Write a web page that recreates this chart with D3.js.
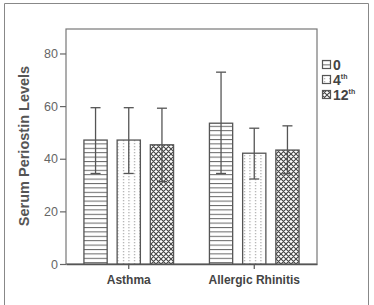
<!DOCTYPE html>
<html>
<head>
<meta charset="utf-8">
<script src="https://cdn.jsdelivr.net/npm/d3@7"></script>
<style>
  body { margin: 0; background: #fff; }
  text { font-family: "Liberation Sans", Arial, sans-serif; }
</style>
</head>
<body>
<svg id="mainsvg" width="374" height="305"></svg>
<script>
const categories = ["Asthma", "Allergic Rhinitis"]
const series = ["0", "4", "12"]
const seriesSup = ["", "th", "th"]
// means and error bar ends, per series
const mean0 = [47.1, 53.5]
const mean4 = [47.1, 42.1]
const mean12 = [45.3, 43.3]
const hi0 = [59.4, 72.9]
const hi4 = [59.4, 51.6]
const hi12 = [59.2, 52.5]
const lo0 = [34.4, 34.4]
const lo4 = [34.4, 32.3]
const lo12 = [31.3, 34.3]
const yTicks = [0, 20, 40, 60, 80]

const means = [mean0, mean4, mean12]
const his = [hi0, hi4, hi12]
const los = [lo0, lo4, lo12]

const svg = d3.select('#mainsvg')
const margin = { top: 29, left: 66, right: 57, bottom: 41 }
const width = +svg.attr("width")
const height = +svg.attr("height")
const innerWidth = width - margin.left - margin.right
const innerHeight = height - margin.top - margin.bottom

// outer frame (bottom edge runs off the picture)
svg.append("path").attr("d", "M4.5,305V3.5H368.5V305")
  .attr("fill", "none").attr("stroke", "#888").attr("stroke-width", 1)

// patterns
const defs = svg.append("defs")
const p0 = defs.append("pattern").attr("id", "pat0").attr("patternUnits", "userSpaceOnUse")
  .attr("width", 6).attr("height", 4.4)
p0.append("rect").attr("width", 6).attr("height", 4.4).attr("fill", "#fff")
p0.append("line").attr("x1", 0).attr("x2", 6).attr("y1", 0.5).attr("y2", 0.5)
  .attr("stroke", "#666").attr("stroke-width", 1)

const p1 = defs.append("pattern").attr("id", "pat1").attr("patternUnits", "userSpaceOnUse")
  .attr("width", 5.5).attr("height", 3)
p1.append("rect").attr("width", 5.5).attr("height", 3).attr("fill", "#fff")
p1.append("rect").attr("x", 2).attr("y", 0).attr("width", 1).attr("height", 1.3).attr("fill", "#999")

const p2 = defs.append("pattern").attr("id", "pat2").attr("patternUnits", "userSpaceOnUse")
  .attr("width", 5).attr("height", 5)
p2.append("rect").attr("width", 5).attr("height", 5).attr("fill", "#fff")
p2.append("path").attr("d", "M-1,-1L6,6M-1,6L6,-1M-1,4L1,6M4,-1L6,1M4,6L6,4M-1,1L1,-1")
  .attr("stroke", "#444").attr("stroke-width", 1.1).attr("fill", "none")

const fills = ["url(#pat0)", "url(#pat1)", "url(#pat2)"]

// scales
const x0 = d3.scaleBand().domain(categories).range([0, innerWidth]).padding(0)
const x1 = d3.scaleBand().domain(series).range([0, x0.bandwidth()])
  .paddingInner(0.3).paddingOuter(0.54)
const yScale = d3.scaleLinear().domain([0, 89.3]).range([innerHeight, 0])

const g = svg.append("g").attr("transform", `translate(${margin.left}, ${margin.top})`)

// plot frame
g.append("rect").attr("width", innerWidth).attr("height", innerHeight)
  .attr("fill", "none").attr("stroke", "#777").attr("stroke-width", 1.2)

// y axis
const yAxis = d3.axisLeft(yScale).tickValues(yTicks).tickSize(6).tickPadding(2)
const yg = g.append("g").call(yAxis)
yg.select(".domain").remove()
yg.selectAll(".tick line").attr("stroke", "#666").attr("stroke-width", 1.2)
yg.selectAll(".tick text").attr("font-size", "12.5px").attr("fill", "#666")
  .attr("font-family", "Liberation Sans, Arial, sans-serif")

// x axis
const xAxis = d3.axisBottom(x0).tickSize(5).tickPadding(6).tickSizeOuter(0)
const xg = g.append("g").attr("transform", `translate(0, ${innerHeight})`).call(xAxis)
xg.select(".domain").attr("stroke", "#555").attr("stroke-width", 1.3)
xg.selectAll(".tick line").attr("stroke", "#555").attr("stroke-width", 1.2)
xg.selectAll(".tick text").attr("font-size", "12px").attr("font-weight", "bold").attr("fill", "#444")
  .attr("font-family", "Liberation Sans, Arial, sans-serif")

// bars
categories.forEach((c, ci) => {
  series.forEach((s, si) => {
    const bx = x0(c) + x1(s)
    const bw = x1.bandwidth()
    g.append("rect")
      .attr("x", bx).attr("width", bw)
      .attr("y", yScale(means[si][ci]))
      .attr("height", yScale(0) - yScale(means[si][ci]))
      .attr("fill", fills[si]).attr("stroke", "#555").attr("stroke-width", 1.3)
  })
})

// error bars
categories.forEach((c, ci) => {
  series.forEach((s, si) => {
    const cx = x0(c) + x1(s) + x1.bandwidth() / 2
    const eb = g.append("g").attr("stroke", "#555").attr("stroke-width", 1.3)
    eb.append("line").attr("x1", cx).attr("x2", cx)
      .attr("y1", yScale(his[si][ci])).attr("y2", yScale(los[si][ci]))
    eb.append("line").attr("x1", cx - 5).attr("x2", cx + 5)
      .attr("y1", yScale(his[si][ci])).attr("y2", yScale(his[si][ci]))
    eb.append("line").attr("x1", cx - 5).attr("x2", cx + 5)
      .attr("y1", yScale(los[si][ci])).attr("y2", yScale(los[si][ci]))
  })
})

// y title
svg.append("text").text("Serum Periostin Levels")
  .attr("transform", `translate(29, 146) rotate(-90)`)
  .attr("text-anchor", "middle")
  .attr("font-size", "14.5px").attr("font-weight", "bold").attr("fill", "#555")

// legend
const legend = svg.append("g").attr("transform", "translate(322, 60)")
series.forEach((s, i) => {
  const ly = i * 15
  legend.append("rect").attr("x", 0.5).attr("y", ly + 0.5).attr("width", 8).attr("height", 8)
    .attr("fill", fills[i]).attr("stroke", "#555").attr("stroke-width", 1.2)
  const t = legend.append("text").attr("x", 11).attr("y", ly + 9.5)
    .attr("font-size", "14px").attr("font-weight", "bold").attr("fill", "#444")
  t.append("tspan").text(s)
  if (seriesSup[i]) {
    t.append("tspan").text(seriesSup[i]).attr("font-size", "7px").attr("dy", -6)
  }
})
</script>
</body>
</html>
